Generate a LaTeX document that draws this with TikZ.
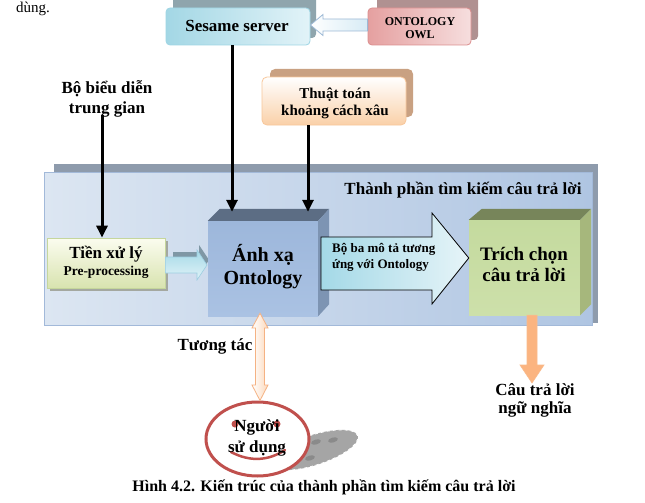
\documentclass[tikz,border=0pt]{standalone}
\usepackage{fontspec}
\setmainfont{Liberation Serif}
\usetikzlibrary{arrows.meta,calc,shapes.geometric}
\definecolor{sesshadow}{HTML}{8FA5AD}
\definecolor{sesL}{HTML}{A3D7E5}
\definecolor{sesR}{HTML}{E2F3F8}
\definecolor{sesborder}{HTML}{9ED5E4}
\definecolor{ontshadow}{HTML}{B09191}
\definecolor{ontL}{HTML}{E5A0A0}
\definecolor{ontR}{HTML}{F6DEDE}
\definecolor{ontborder}{HTML}{DB8E8E}
\definecolor{arrborder}{HTML}{9DB9D6}
\definecolor{arrfill}{HTML}{D7EBF5}
\definecolor{thshadow}{HTML}{C9A182}
\definecolor{thfill}{HTML}{FAD0A8}
\definecolor{thborder}{HTML}{F8C79B}
\definecolor{panshadow}{HTML}{8E9BAC}
\definecolor{panL}{HTML}{DCE6F2}
\definecolor{panR}{HTML}{AFC5E2}
\definecolor{panborder}{HTML}{A2B9D9}
\definecolor{preshadow}{HTML}{A4A8A0}
\definecolor{preT}{HTML}{FBFCEF}
\definecolor{preB}{HTML}{D8E3AF}
\definecolor{preborder}{HTML}{C5D69C}
\definecolor{prearrT}{HTML}{A6D9E7}
\definecolor{prearrB}{HTML}{E0F3F8}
\definecolor{prearrD}{HTML}{9CCDE0}
\definecolor{prearrG}{HTML}{7F97A5}
\definecolor{anhT}{HTML}{9DB7DB}
\definecolor{anhM}{HTML}{4F81BD}
\definecolor{anhB}{HTML}{AAC2E3}
\definecolor{anhTop}{HTML}{5C6D84}
\definecolor{anhSide}{HTML}{7D94B3}
\definecolor{bigL}{HTML}{A4D9E7}
\definecolor{bigR}{HTML}{E6F4F8}
\definecolor{triT}{HTML}{C4DA9E}
\definecolor{triM}{HTML}{92B752}
\definecolor{triB}{HTML}{CDE0AA}
\definecolor{triTop}{HTML}{77855A}
\definecolor{triSide}{HTML}{A6B77C}
\definecolor{orangeM}{HTML}{F79646}
\definecolor{orangeL}{HTML}{FBB480}
\definecolor{orangeD}{HTML}{F9BB8C}
\definecolor{peachD}{HTML}{F5B283}
\definecolor{peachF}{HTML}{FCD9BC}
\definecolor{userred}{HTML}{C0504D}
\definecolor{shadowgray}{HTML}{A5A5A5}
\definecolor{dotgray}{HTML}{8A8A8A}
\tikzset{
  txt/.style={inner sep=0, anchor=base, font=\bfseries\fontsize{17}{20}\selectfont},
  shapebox/.style={inner sep=0, line width=0.8pt},
  blk/.style={line width=3pt, -{Triangle[width=11pt,length=12pt]}},
}
\begin{document}
\begin{tikzpicture}[x=1pt,y=-1pt]
\useasboundingbox (0,0) rectangle (645,503);
\fill[white] (0,0) rectangle (645,503);

% partial text top-left
\node[inner sep=0, anchor=base, font=\fontsize{15}{18}\selectfont] (dung) at (33,13) {dùng.};

% Sesame server
\fill[sesshadow, rounded corners=4pt] (173,-4) rectangle (316,38);
\node[shapebox, rounded corners=4pt, draw=sesborder, left color=sesL, right color=sesR,
      minimum width=144pt, minimum height=37pt] (sesame) at (238,26.5) {};
\node[txt] (sesameT) at (237,31.7) {Sesame server};

% ONTOLOGY OWL
\fill[ontshadow, rounded corners=4pt] (377,-4) rectangle (478,40);
\node[shapebox, rounded corners=4pt, draw=ontborder, left color=ontL, right color=ontR,
      minimum width=103pt, minimum height=37pt] (onto) at (419.5,26.5) {};
\node[txt, font=\bfseries\fontsize{12}{14}\selectfont] (ontoT1) at (420,26) {ONTOLOGY};
\node[txt, font=\bfseries\fontsize{12}{14}\selectfont] (ontoT2) at (420,38.3) {OWL};

% hollow arrow ONTOLOGY -> Sesame
\draw[draw=arrborder, line width=0.8pt, left color=white, right color=arrfill]
  (onto.west |- 0,19) -- (323,19) -- (323,14.5) -- (sesame.east |- 0,25)
  -- (323,35.5) -- (323,31) -- (onto.west |- 0,31) -- cycle;

% Bo bieu dien
\node[txt] (bieu1) at (107,93.3) {Bộ biểu diễn};
\node[txt] (bieu2) at (107,113.3) {trung gian};

% Thuat toan
\fill[thshadow, rounded corners=5pt] (270,69) rectangle (413,117);
\node[shapebox, rounded corners=5pt, draw=thborder, top color=white, bottom color=thfill,
      minimum width=144pt, minimum height=48pt] (thuat) at (334,101) {};
\node[txt, font=\bfseries\fontsize{15}{17}\selectfont] (thuatT1) at (335,98.3) {Thuật toán};
\node[txt, font=\bfseries\fontsize{15}{17}\selectfont] (thuatT2) at (335,115) {khoảng cách xâu};

% panel
\fill[panshadow] (54,164) rectangle (598,323);
\node[shapebox, draw=panborder, left color=panL, right color=panR,
      minimum width=548pt, minimum height=153pt] (panel) at (318,248.5) {};
\node[txt] (title) at (463,194.3) {Thành phần tìm kiếm câu trả lời};

% Tien xu ly
\fill[preshadow] (50,241) rectangle (168,291);
\node[shapebox, draw=preborder, top color=preT, bottom color=preB,
      minimum width=118pt, minimum height=50pt] (pre) at (106,263) {};
\node[txt] (preT1) at (106,258.3) {Tiền xử lý};
\node[txt, font=\bfseries\fontsize{13.5}{16}\selectfont] (preT2) at (106,275) {Pre-processing};

% arrow Tien xu ly -> Anh xa (shadow + arrow)
\fill[prearrG] (173,252) -- (199,252) -- (199,245) -- (209,260) -- (199,275) -- (199,268) -- (173,268) -- cycle;
\draw[draw=prearrD, line width=0.6pt, top color=prearrT, bottom color=prearrB]
  (pre.east |- 0,257) -- (197,257) -- (197,250) -- (207,265) -- (197,280) -- (197,273) -- (pre.east |- 0,273) -- cycle;

% Anh xa cube
\node[inner sep=0, top color=anhT, middle color=anhM, bottom color=anhB,
      minimum width=110pt, minimum height=95pt] (anh) at (263,268.5) {};
\fill[anhTop] (anh.north west) -- ++(12,-12) -- ($(anh.north east)+(11,-12)$) -- (anh.north east) -- cycle;
\fill[anhSide] (anh.north east) -- ++(11,-12) -- ($(anh.south east)+(11,-12)$) -- (anh.south east) -- cycle;
\node[txt, font=\bfseries\fontsize{20}{23}\selectfont] (anhT1) at (263,261.7) {Ánh xạ};
\node[txt, font=\bfseries\fontsize{20}{23}\selectfont] (anhT2) at (263,284.3) {Ontology};

% Trich chon cube
\node[inner sep=0, top color=triT, middle color=triM, bottom color=triB,
      minimum width=111pt, minimum height=95pt] (trich) at (524.5,267.5) {};
\fill[triTop] (trich.north west) -- ++(13,-11) -- ($(trich.north east)+(11,-11)$) -- (trich.north east) -- cycle;
\fill[triSide] (trich.north east) -- ++(11,-11) -- ($(trich.south east)+(11,-11)$) -- (trich.south east) -- cycle;
\node[txt, font=\bfseries\fontsize{19}{22}\selectfont] (trichT1) at (524,260) {Trích chọn};
\node[txt, font=\bfseries\fontsize{19}{22}\selectfont] (trichT2) at (524,281) {câu trả lời};

% big arrow Anh xa -> Trich chon
\draw[black, line width=0.8pt, left color=bigL, right color=bigR]
  (321,237) -- (432,237) -- (432,213) -- (trich.west |- 0,258) -- (432,304) -- (432,290) -- (321,290) -- cycle;
\node[txt, anchor=base west, font=\bfseries\fontsize{13}{15}\selectfont] (bigT1) at (332,252) {Bộ ba mô tả tương};
\node[txt, anchor=base west, font=\bfseries\fontsize{13}{15}\selectfont] (bigT2) at (332,268) {ứng với Ontology};

% black arrows
\coordinate (a1) at (102,115);
\draw[blk] (a1) -- (a1 |- pre.north);
\draw[blk] (sesame.south -| 232,0) -- ($(anh.north -| 232,0)+(0,-9)$);
\draw[blk] (thuat.south -| 308,0) -- ($(anh.north -| 308,0)+(0,-9)$);

% orange arrow to answer
\draw[draw=orangeD, line width=0.6pt, left color=orangeL, middle color=orangeM, right color=orangeL, shading angle=90]
  (trich.south -| 527,0) -- (527,365) -- (520,365) -- (532,383) -- (544,365) -- (537,365) -- (trich.south -| 537,0) -- cycle;
\node[txt] (ansT1) at (535,395) {Câu trả lời};
\node[txt] (ansT2) at (535,413.3) {ngữ nghĩa};

% user smiley shadow
\begin{scope}[shift={(314,450)}, rotate=18]
  \fill[shadowgray, draw=white, line width=0.8pt, dashed] (0,0) ellipse [x radius=46pt, y radius=15pt];
\end{scope}
\fill[dotgray, rotate around={15:(316,442)}] (316,442) ellipse [x radius=5pt, y radius=2.5pt];
\fill[dotgray, rotate around={15:(333,440)}] (333,440) ellipse [x radius=5pt, y radius=2.5pt];
\fill[dotgray, rotate around={15:(310,458)}] (310,458) ellipse [x radius=5pt, y radius=2.5pt];

% user
\node[ellipse, draw=userred, fill=white, line width=3pt, inner sep=0,
      minimum width=103pt, minimum height=74pt] (user) at (257.5,439) {};
\fill[userred] (235,424) circle [radius=3.5pt];
\fill[userred] (277,424) circle [radius=3.5pt];
\draw[userred, line width=2.5pt, line cap=round] (231,452) .. controls (250,462) and (268,461) .. (285,450);
\node[txt] (userT1) at (257,431.7) {Người};
\node[txt] (userT2) at (257,452.7) {sử dụng};

% interaction double arrow
\draw[draw=peachD, line width=0.8pt, left color=white, right color=peachF]
  (anh.south -| 260,0) ++(0,-3) -- (268,328) -- (264.5,328) -- (264.5,385) -- (268,385)
  -- (user.north -| 260,0) -- (252,385) -- (255.5,385) -- (255.5,328) -- (252,328) -- cycle;
\node[txt] (tuongT) at (215,350) {Tương tác};

% caption
\node[txt, font=\bfseries\fontsize{16}{18}\selectfont] (caption) at (324,491.7) {Hình 4.2. Kiến trúc của thành phần tìm kiếm câu trả lời};
\end{tikzpicture}
\end{document}
